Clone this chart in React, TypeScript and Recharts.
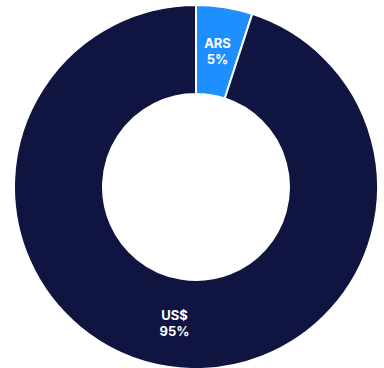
import React from 'react';
import { PieChart, Pie, Cell } from 'recharts';

const currencies = ['ARS', 'US$'];
const shares = [5, 95];
const colors = ['#1E8FFF', '#0F1440'];

const data = currencies.map((name, i) => ({ name, value: shares[i] }));

const RADIAN = Math.PI / 180;

const renderLabel = (props: any) => {
  const { cx, cy, midAngle, innerRadius, outerRadius, name, value } = props;
  const r = (innerRadius + outerRadius) / 2;
  const x = cx + r * Math.cos(-midAngle * RADIAN);
  const y = cy + r * Math.sin(-midAngle * RADIAN);
  return (
    <text
      x={x}
      y={y}
      fill="#ffffff"
      textAnchor="middle"
      fontFamily="Inter, sans-serif"
      fontSize={13}
      fontWeight={700}
    >
      <tspan x={x} dy={-3}>{name}</tspan>
      <tspan x={x} dy={16}>{`${value}%`}</tspan>
    </text>
  );
};

const App: React.FC = () => {
  return (
    <div style={{ position: 'absolute', left: 0, top: 0, width: 384, height: 368, background: '#fff' }}>
      <PieChart width={384} height={368} margin={{ top: 0, right: 0, bottom: 0, left: 0 }}>
        <Pie
          data={data}
          dataKey="value"
          nameKey="name"
          cx={196}
          cy={187}
          innerRadius={93}
          outerRadius={182}
          startAngle={90}
          endAngle={-270}
          stroke="#ffffff"
          strokeWidth={2}
          label={renderLabel}
          labelLine={false}
          isAnimationActive={false}
        >
          {data.map((d, i) => (
            <Cell key={d.name} fill={colors[i]} />
          ))}
        </Pie>
      </PieChart>
    </div>
  );
};

export default App;
